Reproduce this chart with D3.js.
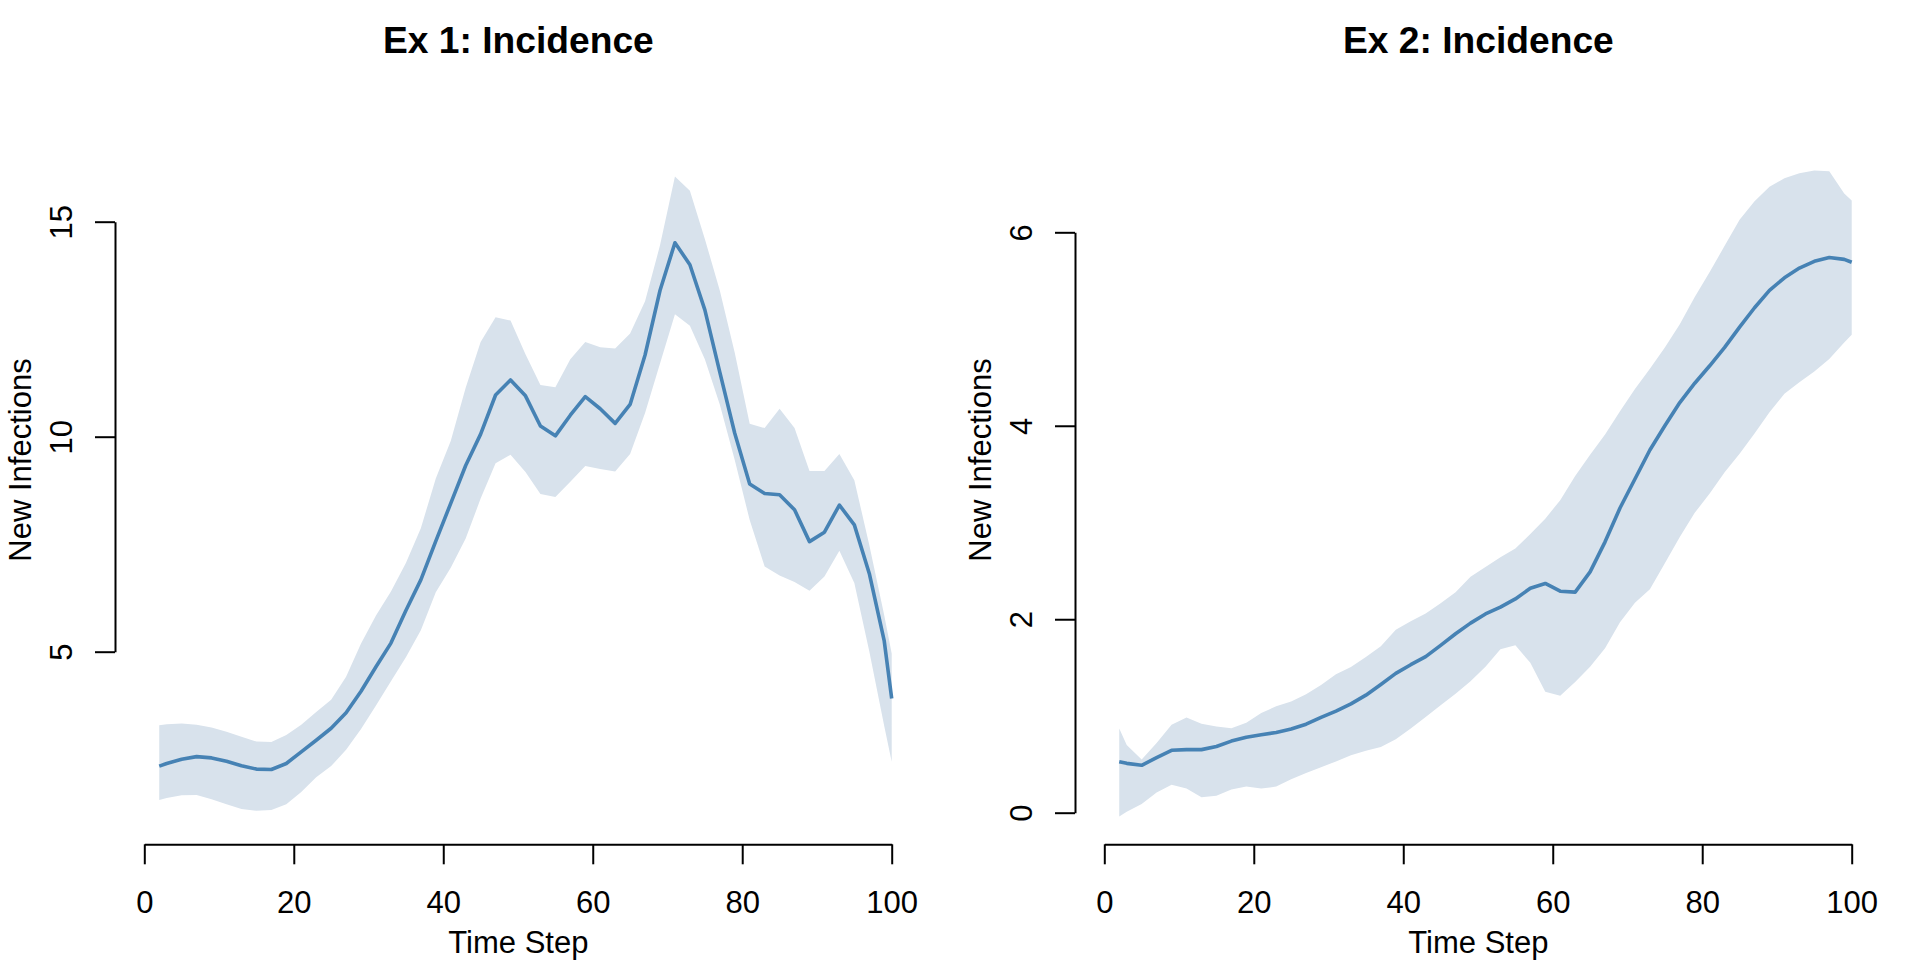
<!DOCTYPE html>
<html>
<head>
<meta charset="utf-8">
<script src="https://cdn.jsdelivr.net/npm/d3@7/dist/d3.min.js"></script>
<style>
  html, body { margin: 0; padding: 0; background: #ffffff; }
  svg { display: block; }
</style>
</head>
<body>
<svg id="chart" width="1920" height="960"></svg>
<script>
// ---------- data ----------
const timeSteps = [2, 3, 5, 7, 9, 11, 13, 15, 17, 19, 21, 23, 25, 27, 29, 31, 33, 35, 37, 39,
  41, 43, 45, 47, 49, 51, 53, 55, 57, 59, 61, 63, 65, 67, 69, 71, 73, 75, 77, 79,
  81, 83, 85, 87, 89, 91, 93, 95, 97, 99, 100];

const ex1Mean = [2.34, 2.40, 2.50, 2.56, 2.53, 2.45, 2.35, 2.27, 2.26, 2.40,
  2.67, 2.94, 3.22, 3.58, 4.08, 4.65, 5.20, 5.96, 6.67, 7.57,
  8.45, 9.33, 10.06, 10.97, 11.32, 10.95, 10.25, 10.02, 10.50, 10.93,
  10.65, 10.31, 10.75, 11.90, 13.40, 14.51, 14.00, 12.95, 11.50, 10.08,
  8.90, 8.68, 8.65, 8.30, 7.56, 7.78, 8.41, 7.95, 6.82, 5.25, 3.91];
const ex1Upper = [3.29, 3.31, 3.33, 3.30, 3.24, 3.14, 3.02, 2.91, 2.90, 3.06,
  3.30, 3.60, 3.88, 4.42, 5.19, 5.84, 6.40, 7.06, 7.87, 9.03,
  9.90, 11.14, 12.20, 12.78, 12.70, 11.92, 11.20, 11.15, 11.80, 12.20,
  12.08, 12.05, 12.40, 13.15, 14.45, 16.05, 15.72, 14.60, 13.40, 11.95,
  10.30, 10.20, 10.65, 10.20, 9.20, 9.20, 9.60, 8.99, 7.48, 5.85, 4.96];
const ex1Lower = [1.55, 1.60, 1.66, 1.67, 1.57, 1.45, 1.34, 1.30, 1.32, 1.45,
  1.74, 2.08, 2.34, 2.72, 3.20, 3.75, 4.31, 4.87, 5.50, 6.38,
  6.95, 7.63, 8.56, 9.38, 9.58, 9.18, 8.67, 8.60, 8.95, 9.32,
  9.25, 9.19, 9.60, 10.55, 11.70, 12.85, 12.58, 11.80, 10.75, 9.46,
  8.06, 6.98, 6.77, 6.62, 6.42, 6.75, 7.35, 6.60, 5.01, 3.27, 2.44];

const ex2Mean = [0.527, 0.51, 0.49, 0.57, 0.645, 0.652, 0.652, 0.685, 0.74, 0.78,
  0.805, 0.83, 0.865, 0.915, 0.985, 1.05, 1.125, 1.215, 1.325, 1.44,
  1.53, 1.613, 1.73, 1.85, 1.96, 2.055, 2.125, 2.21, 2.32, 2.37,
  2.29, 2.28, 2.49, 2.80, 3.15, 3.45, 3.75, 4.00, 4.24, 4.44,
  4.62, 4.81, 5.02, 5.22, 5.40, 5.53, 5.63, 5.70, 5.74, 5.72, 5.69];
const ex2Upper = [0.87, 0.70, 0.55, 0.72, 0.91, 0.985, 0.92, 0.89, 0.872, 0.93,
  1.03, 1.10, 1.15, 1.225, 1.32, 1.43, 1.505, 1.61, 1.72, 1.89,
  1.98, 2.06, 2.165, 2.28, 2.44, 2.54, 2.64, 2.73, 2.88, 3.04,
  3.23, 3.48, 3.70, 3.91, 4.15, 4.38, 4.59, 4.81, 5.05, 5.33,
  5.59, 5.86, 6.13, 6.32, 6.47, 6.56, 6.61, 6.64, 6.63, 6.40, 6.33];
const ex2Lower = [-0.04, 0.01, 0.09, 0.21, 0.29, 0.25, 0.16, 0.175, 0.24, 0.27,
  0.25, 0.27, 0.345, 0.41, 0.47, 0.53, 0.595, 0.64, 0.68, 0.76,
  0.87, 0.99, 1.11, 1.23, 1.36, 1.51, 1.69, 1.73, 1.55, 1.25,
  1.21, 1.35, 1.51, 1.70, 1.97, 2.17, 2.31, 2.58, 2.85, 3.10,
  3.30, 3.52, 3.71, 3.92, 4.14, 4.33, 4.45, 4.56, 4.69, 4.86, 4.94];

const xTickValues = [0, 20, 40, 60, 80, 100];
const ex1YTicks = [5, 10, 15];
const ex2YTicks = [0, 2, 4, 6];
const panelTitles = ["Ex 1: Incidence", "Ex 2: Incidence"];
const xAxisTitle = "Time Step";
const yAxisTitle = "New Infections";

// ---------- drawing ----------
const FONT = "'Liberation Sans', Arial, Helvetica, sans-serif";
const LINE_COLOR = "#4682b4";
const BAND_COLOR = "#d8e2ec";

const svg = d3.select("#chart");
svg.append("rect").attr("width", 1920).attr("height", 960).attr("fill", "#ffffff");

const panels = [
  { offset: 0,   title: panelTitles[0], mean: ex1Mean, lo: ex1Lower, hi: ex1Upper,
    yTicks: ex1YTicks, yDomain: [5, 15], yRange: [651.7, 221.7] },
  { offset: 960, title: panelTitles[1], mean: ex2Mean, lo: ex2Lower, hi: ex2Upper,
    yTicks: ex2YTicks, yDomain: [0, 6], yRange: [812.7, 232.3] }
];

panels.forEach(p => {
  const g = svg.append("g").attr("transform", `translate(${p.offset},0)`);
  const x = d3.scaleLinear().domain([0, 100]).range([144.3, 891.7]);
  const y = d3.scaleLinear().domain(p.yDomain).range(p.yRange);

  const rows = timeSteps.map((t, i) => ({ t, m: p.mean[i], lo: p.lo[i], hi: p.hi[i] }));

  g.append("path")
    .datum(rows)
    .attr("fill", BAND_COLOR)
    .attr("stroke", "none")
    .attr("d", d3.area().x(d => x(d.t)).y0(d => y(d.lo)).y1(d => y(d.hi)));

  g.append("path")
    .datum(rows)
    .attr("fill", "none")
    .attr("stroke", LINE_COLOR)
    .attr("stroke-width", 3.6)
    .attr("stroke-linejoin", "round")
    .attr("d", d3.line().x(d => x(d.t)).y(d => y(d.m)));

  // x axis
  const xa = g.append("g")
    .attr("transform", "translate(0,844.3)")
    .call(d3.axisBottom(x).tickValues(xTickValues).tickSize(20).tickSizeOuter(0).tickPadding(26.5)
      .tickFormat(d3.format("d")));
  xa.attr("font-size", 31).attr("font-family", FONT);
  xa.selectAll("path, line").attr("stroke", "#000").attr("stroke-width", 2);
  xa.selectAll("text").attr("fill", "#000");

  // y axis
  const ya = g.append("g")
    .attr("transform", "translate(115,0)")
    .call(d3.axisLeft(y).tickValues(p.yTicks).tickSize(20).tickSizeOuter(0).tickFormat(d3.format("d")));
  ya.attr("font-size", 31).attr("font-family", FONT);
  ya.selectAll("path, line").attr("stroke", "#000").attr("stroke-width", 2);
  ya.selectAll(".tick text")
    .attr("x", null).attr("dy", null)
    .attr("text-anchor", "middle")
    .attr("fill", "#000")
    .attr("transform", "translate(-43.5,0) rotate(-90)");

  // titles
  g.append("text")
    .attr("x", 518.4).attr("y", 53.3)
    .attr("text-anchor", "middle")
    .attr("font-family", FONT).attr("font-weight", "bold").attr("font-size", 37.2)
    .attr("fill", "#000")
    .text(p.title);

  g.append("text")
    .attr("x", 518.4).attr("y", 953)
    .attr("text-anchor", "middle")
    .attr("font-family", FONT).attr("font-size", 31)
    .attr("fill", "#000")
    .text(xAxisTitle);

  g.append("text")
    .attr("transform", "translate(31,460) rotate(-90)")
    .attr("text-anchor", "middle")
    .attr("font-family", FONT).attr("font-size", 31)
    .attr("fill", "#000")
    .text(yAxisTitle);
});
</script>
</body>
</html>
